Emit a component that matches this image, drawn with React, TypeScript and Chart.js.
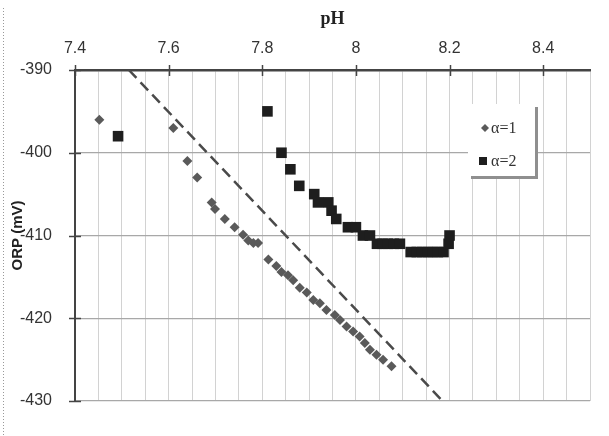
import React, { useEffect, useRef } from "react";
import { Chart, registerables } from "chart.js";
Chart.register(...registerables);

const seriesNames = ["α=1", "α=2"];

const alpha1PH = [7.452, 7.61, 7.64, 7.661, 7.692, 7.699, 7.72, 7.741, 7.759, 7.77, 7.781, 7.791, 7.813, 7.83, 7.841, 7.855, 7.866, 7.88, 7.895, 7.909, 7.923, 7.937, 7.955, 7.966, 7.98, 7.994, 8.008, 8.019, 8.03, 8.044, 8.058, 8.076];
const alpha1ORP = [-396, -397, -401, -403, -406, -406.8, -408, -409, -409.9, -410.6, -410.9, -410.9, -412.9, -413.7, -414.4, -414.8, -415.4, -416.3, -416.9, -417.8, -418.2, -419, -419.6, -420.2, -421, -421.6, -422.2, -423, -423.8, -424.4, -425, -425.8];

const alpha2PH = [7.492, 7.811, 7.841, 7.86, 7.879, 7.911, 7.919, 7.941, 7.948, 7.958, 7.983, 8.0, 8.015, 8.03, 8.045, 8.057, 8.068, 8.081, 8.094, 8.117, 8.13, 8.141, 8.153, 8.164, 8.175, 8.187, 8.198, 8.2];
const alpha2ORP = [-398, -395, -400, -402, -404, -405, -406, -406, -407, -408, -409, -409, -410, -410, -411, -411, -411, -411, -411, -412, -412, -412, -412, -412, -412, -412, -411, -410];

const trendPH = [7.515, 8.185];
const trendORP = [-390, -430];

const xMin = 7.4;
const xMax = 8.5;
const xMinorStep = 0.05;
const xMajorStep = 0.2;
const yMin = -430;
const yMax = -390;
const yStep = 10;

const isMajorX = (v: number) => {
  const k = (v - xMin) / xMajorStep;
  return Math.abs(k - Math.round(k)) < 1e-6;
};

export default function App() {
  const ref = useRef<HTMLCanvasElement | null>(null);

  useEffect(() => {
    if (!ref.current) return;

    const overlay = {
      id: "overlay",
      afterDraw(chart: any) {
        const ctx = chart.ctx;
        const xs = chart.scales.x;
        const ys = chart.scales.y;
        const area = chart.chartArea;
        ctx.save();
        // cross ticks on x axis (majors)
        ctx.strokeStyle = "#444";
        ctx.lineWidth = 1.5;
        xs.ticks.forEach((t: any) => {
          if (!isMajorX(t.value)) return;
          const px = Math.round(xs.getPixelForValue(t.value)) + 0.5;
          ctx.beginPath();
          ctx.moveTo(px, area.top - 5);
          ctx.lineTo(px, area.top + 6);
          ctx.stroke();
        });
        ys.ticks.forEach((t: any) => {
          const py = Math.round(ys.getPixelForValue(t.value)) + 0.5;
          ctx.beginPath();
          ctx.moveTo(area.left - 6, py);
          ctx.lineTo(area.left + 6, py);
          ctx.stroke();
        });
        // left dotted border
        ctx.strokeStyle = "#999";
        ctx.lineWidth = 1;
        ctx.setLineDash([1, 2]);
        ctx.beginPath();
        ctx.moveTo(3.5, 8);
        ctx.lineTo(3.5, 436);
        ctx.stroke();
        ctx.setLineDash([]);
        // legend box
        const lx = 468, ly = 104, lw = 67, lh = 72;
        ctx.fillStyle = "#8f8f8f";
        ctx.fillRect(lx + 3, ly + 3, lw, lh);
        ctx.fillStyle = "#ffffff";
        ctx.fillRect(lx, ly, lw, lh);
        // entries
        const ds = chart.data.datasets;
        const rows = [128, 161];
        ctx.font = "16px 'Liberation Serif'";
        ctx.textBaseline = "middle";
        ctx.textAlign = "left";
        for (let i = 0; i < 2; i++) {
          const y = rows[i];
          ctx.fillStyle = ds[i].backgroundColor;
          if (i === 0) {
            ctx.beginPath();
            ctx.moveTo(485, y - 4);
            ctx.lineTo(489, y);
            ctx.lineTo(485, y + 4);
            ctx.lineTo(481, y);
            ctx.closePath();
            ctx.fill();
          } else {
            ctx.fillRect(479, y - 4, 8, 8);
          }
          ctx.fillStyle = "#333";
          ctx.fillText(seriesNames[i], 491, y + 1);
        }
        ctx.restore();
      },
    };

    const chart = new Chart(ref.current, {
      type: "scatter",
      data: {
        datasets: [
          {
            label: seriesNames[0],
            data: alpha1PH.map((x, i) => ({ x, y: alpha1ORP[i] })),
            pointStyle: "rectRot",
            pointRadius: 5,
            backgroundColor: "#5a5a5a",
            borderColor: "#5a5a5a",
            borderWidth: 0,
          },
          {
            label: seriesNames[1],
            data: alpha2PH.map((x, i) => ({ x, y: alpha2ORP[i] })),
            pointStyle: "rect",
            pointRadius: 7.5,
            backgroundColor: "#1e1e1e",
            borderColor: "#1e1e1e",
            borderWidth: 0,
          },
          {
            type: "line" as any,
            label: "trend",
            data: trendPH.map((x, i) => ({ x, y: trendORP[i] })),
            borderColor: "#4a4a4a",
            borderWidth: 2.5,
            borderDash: [11, 6],
            pointRadius: 0,
            showLine: true,
            fill: false,
          } as any,
        ],
      },
      options: {
        responsive: false,
        animation: false,
        layout: { padding: { left: 0, right: 19, top: 0, bottom: 35 } },
        plugins: {
          legend: { display: false },
          tooltip: { enabled: false },
        },
        scales: {
          x: {
            type: "linear",
            position: "top",
            min: xMin,
            max: xMax,
            afterFit: (s: any) => {
              s.height = 70;
            },
            ticks: {
              stepSize: xMinorStep,
              autoSkip: false,
              maxRotation: 0,
              padding: 12,
              color: "#333",
              font: { family: "'Liberation Sans'", size: 16 },
              callback: (v: any) => (isMajorX(Number(v)) ? String(Math.round(Number(v) * 10) / 10) : ""),
            },
            grid: {
              color: "#d2d2d2",
              lineWidth: 1,
              drawTicks: false,
            },
            border: { display: true, color: "#444", width: 2.5 },
            title: {
              display: true,
              text: "pH",
              color: "#222",
              font: { family: "'Liberation Serif'", size: 18, weight: "bold" },
              padding: { top: 9, bottom: 0 },
            },
          },
          y: {
            type: "linear",
            min: yMin,
            max: yMax,
            afterFit: (s: any) => {
              s.width = 75;
            },
            ticks: {
              stepSize: yStep,
              padding: 23,
              color: "#333",
              font: { family: "'Liberation Sans'", size: 16 },
            },
            grid: {
              color: "#a8a8a8",
              lineWidth: 1.2,
              drawTicks: false,
            },
            border: { display: true, color: "#444", width: 2 },
            title: {
              display: true,
              text: "ORP (mV)",
              color: "#222",
              font: { family: "'Liberation Sans'", size: 15, weight: "bold" },
              padding: { top: 9, bottom: 0 },
            },
          },
        },
      },
      plugins: [overlay],
    });

    return () => chart.destroy();
  }, []);

  return (
    <div style={{ position: "fixed", left: 0, top: 0, width: 609, height: 436, background: "#fff" }}>
      <canvas ref={ref} width={609} height={436} style={{ display: "block" }} />
    </div>
  );
}
